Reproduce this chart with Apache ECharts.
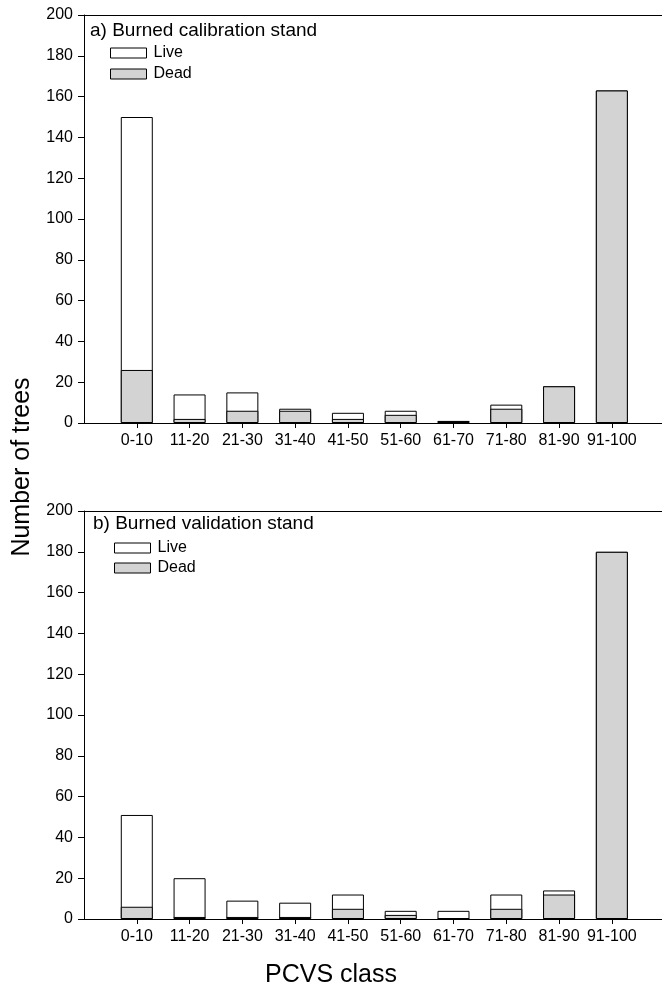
<!DOCTYPE html>
<html>
<head>
<meta charset="utf-8">
<script src="https://cdn.jsdelivr.net/npm/echarts@6/dist/echarts.min.js"></script>
<style>
html,body{margin:0;padding:0;background:#fff;}
#chart{width:662px;height:992px;}
</style>
</head>
<body>
<div id="chart"></div>
<script>
// ---- data ----
var categories = ['0-10','11-20','21-30','31-40','41-50','51-60','61-70','71-80','81-90','91-100'];
var calibDead = [26, 2, 6, 6, 2, 4, 1, 7, 18, 163];
var calibLive = [124, 12, 9, 1, 3, 2, 0, 2, 0, 0];
var validDead = [6, 1, 1, 1, 5, 2, 0, 5, 12, 180];
var validLive = [45, 19, 8, 7, 7, 2, 4, 7, 2, 0];
var yTicks = [0, 20, 40, 60, 80, 100, 120, 140, 160, 180, 200];
var panelTitles = ['a) Burned calibration stand', 'b) Burned validation stand'];
var seriesNames = ['Live', 'Dead'];
var xTitle = 'PCVS class';
var yTitle = 'Number of trees';

var FONT = '"Liberation Sans", Arial, sans-serif';
var positions = categories.map(function (c, i) { return i + 1; });
function pairs(vals) { return vals.map(function (v, i) { return [positions[i], v]; }); }
function totals(dead, live) { return dead.map(function (d, i) { return d + live[i]; }); }

var grids = [
  { left: 84, right: 0, top: 15, height: 408 },
  { left: 84, right: 0, top: 511, height: 408 }
];

var xAxes = [], yAxes = [], series = [];
[0, 1].forEach(function (g) {
  xAxes.push({
    type: 'value', gridIndex: g, min: 0, max: 10.95, position: 'bottom',
    axisLine: { show: true, onZero: false, lineStyle: { color: '#000', width: 1 } },
    axisTick: { show: true, inside: false, length: 5, customValues: positions, lineStyle: { color: '#000' } },
    axisLabel: {
      show: true, margin: 10, customValues: positions,
      fontFamily: FONT, fontSize: 16, color: '#000',
      formatter: function (v) { return categories[Math.round(v) - 1] || ''; }
    },
    splitLine: { show: false }
  });
  // top border line
  xAxes.push({
    type: 'value', gridIndex: g, min: 0, max: 10.95, position: 'top',
    axisLine: { show: true, onZero: false, lineStyle: { color: '#000', width: 1 } },
    axisTick: { show: false }, axisLabel: { show: false }, splitLine: { show: false }
  });
  yAxes.push({
    type: 'value', gridIndex: g, min: yTicks[0], max: yTicks[yTicks.length - 1], interval: yTicks[1] - yTicks[0],
    axisLine: { show: true, lineStyle: { color: '#000', width: 1 } },
    axisTick: { show: true, inside: false, length: 6, lineStyle: { color: '#000' } },
    axisLabel: { margin: 11, fontFamily: FONT, fontSize: 16, color: '#000' },
    splitLine: { show: false }
  });
});

var panels = [[calibDead, calibLive], [validDead, validLive]];
panels.forEach(function (p, g) {
  // Live drawn as the full column (dead + live), Dead overlaid at the bottom
  series.push({
    name: seriesNames[0], type: 'bar', xAxisIndex: g * 2, yAxisIndex: g,
    barWidth: 32, barGap: '-100%', data: pairs(totals(p[0], p[1])),
    itemStyle: { color: '#ffffff', borderColor: '#000', borderWidth: 1 },
    emphasis: { disabled: true }, z: 2
  });
  series.push({
    name: seriesNames[1], type: 'bar', xAxisIndex: g * 2, yAxisIndex: g,
    barWidth: 32, barGap: '-100%', data: pairs(p[0]),
    itemStyle: { color: '#d3d3d3', borderColor: '#000', borderWidth: 1 },
    emphasis: { disabled: true }, z: 3
  });
});

var legendCommon = {
  orient: 'vertical', icon: 'rect', itemWidth: 36, itemHeight: 10,
  data: seriesNames, selectedMode: false,
  textStyle: { fontFamily: FONT, fontSize: 16, color: '#000', padding: [0, 0, 0, 2], lineHeight: 16 },
  itemStyle: { borderColor: '#000', borderWidth: 1 }
};
var legends = [
  Object.assign({}, legendCommon, { left: 110, top: 45, itemGap: 5, padding: 0 }),
  Object.assign({}, legendCommon, { left: 114, top: 540, itemGap: 4, padding: 0 })
];

var option = {
  animation: false,
  backgroundColor: '#fff',
  grid: grids,
  xAxis: xAxes,
  yAxis: yAxes,
  legend: legends,
  series: series,
  graphic: [
    { type: 'text', left: 90, top: 21, style: { text: panelTitles[0], font: '19px ' + FONT, fill: '#000' } },
    { type: 'text', left: 93, top: 514, style: { text: panelTitles[1], font: '19px ' + FONT, fill: '#000' } },
    { type: 'text', x: 22, y: 467, rotation: Math.PI / 2,
      style: { text: yTitle, font: '25px ' + FONT, fill: '#000', align: 'center', verticalAlign: 'middle' } },
    { type: 'text', x: 331, y: 975,
      style: { text: xTitle, font: '25px ' + FONT, fill: '#000', align: 'center', verticalAlign: 'middle' } }
  ]
};

var chart = echarts.init(document.getElementById('chart'), null, { renderer: 'canvas' });
chart.setOption(option);
</script>
</body>
</html>
